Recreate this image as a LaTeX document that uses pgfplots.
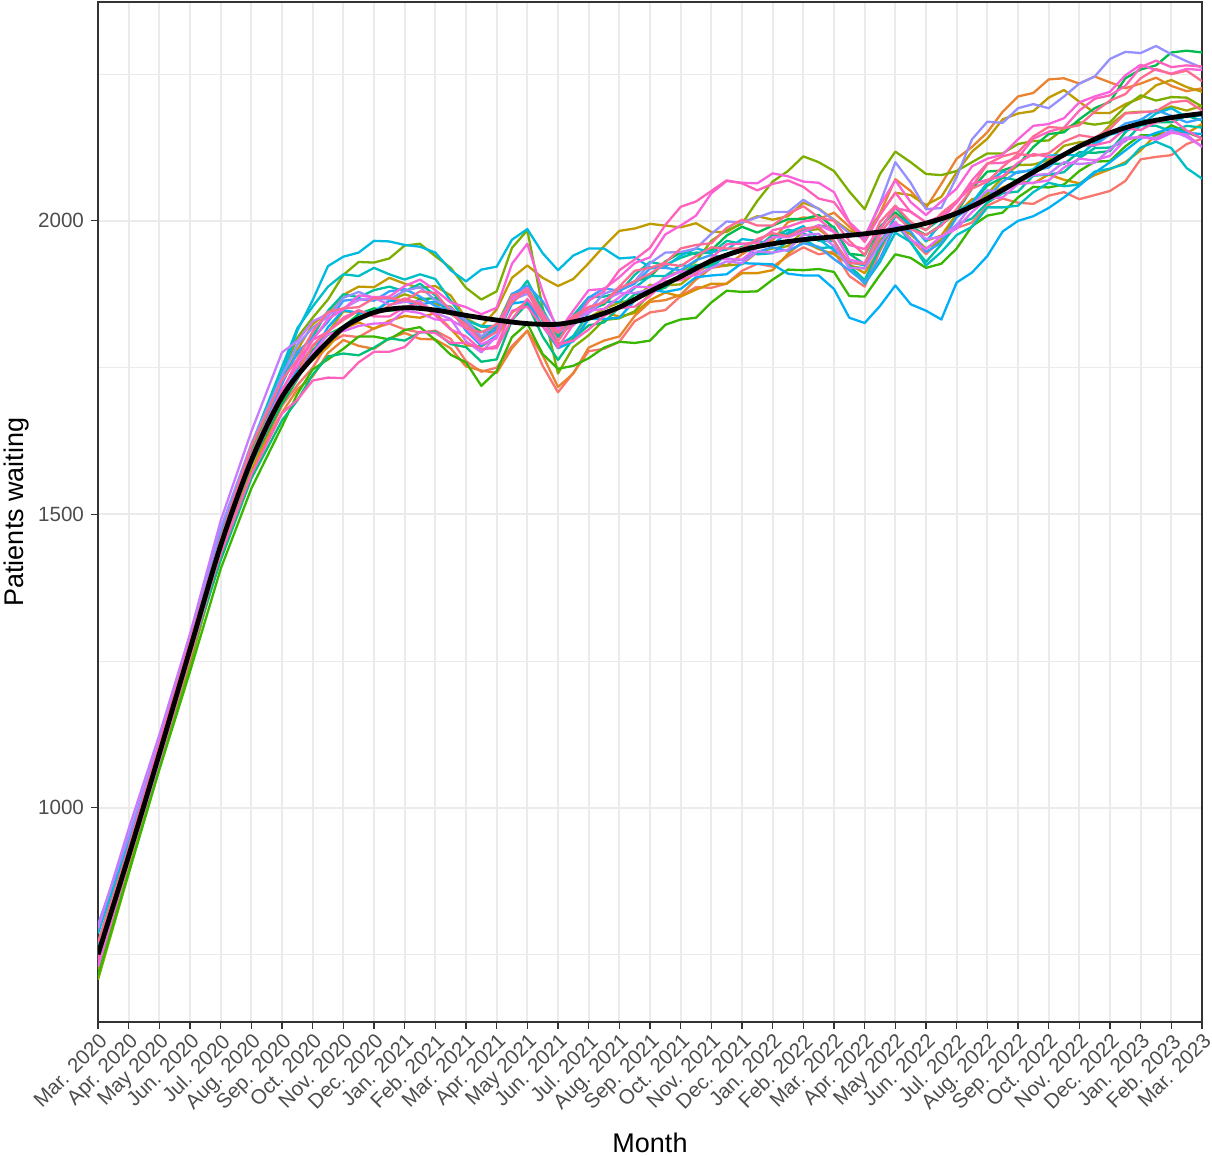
\documentclass[border=0pt]{standalone}
\usepackage{fontspec}
\setmainfont{Liberation Sans}
\usepackage{pgfplots}
\pgfplotsset{compat=1.18}

\definecolor{gray20}{HTML}{333333}
\definecolor{gray30}{HTML}{4D4D4D}
\definecolor{gray92}{HTML}{EBEBEB}
% ggplot hue palette
\definecolor{c01}{HTML}{F8766D}
\definecolor{c02}{HTML}{EA8331}
\definecolor{c03}{HTML}{D89000}
\definecolor{c04}{HTML}{C09B00}
\definecolor{c05}{HTML}{A3A500}
\definecolor{c06}{HTML}{7CAE00}
\definecolor{c07}{HTML}{39B600}
\definecolor{c08}{HTML}{00BB4E}
\definecolor{c09}{HTML}{00BF7D}
\definecolor{c10}{HTML}{00C1A3}
\definecolor{c11}{HTML}{00BFC4}
\definecolor{c12}{HTML}{00BAE0}
\definecolor{c13}{HTML}{00B0F6}
\definecolor{c14}{HTML}{35A2FF}
\definecolor{c15}{HTML}{9590FF}
\definecolor{c16}{HTML}{C77CFF}
\definecolor{c17}{HTML}{E76BF3}
\definecolor{c18}{HTML}{FA62DB}
\definecolor{c19}{HTML}{FF62BC}
\definecolor{c20}{HTML}{FF6C91}

\pgfplotsset{run/.style={line width=1.15pt, line join=round}}

\begin{document}
\begin{tikzpicture}
\begin{axis}[
  width=552pt, height=510pt, scale only axis,
  xmin=0, xmax=36, ymin=635, ymax=2373,
  axis line style={gray20, line width=0.55pt},
  xtick={0,...,36},
  xticklabels={Mar. 2020, Apr. 2020, May 2020, Jun. 2020, Jul. 2020, Aug. 2020, Sep. 2020, Oct. 2020, Nov. 2020, Dec. 2020, Jan. 2021, Feb. 2021, Mar. 2021, Apr. 2021, May 2021, Jun. 2021, Jul. 2021, Aug. 2021, Sep. 2021, Oct. 2021, Nov. 2021, Dec. 2021, Jan. 2022, Feb. 2022, Mar. 2022, Apr. 2022, May 2022, Jun. 2022, Jul. 2022, Aug. 2022, Sep. 2022, Oct. 2022, Nov. 2022, Dec. 2022, Jan. 2023, Feb. 2023, Mar. 2023},
  ytick={1000,1500,2000},
  minor ytick={750,1250,1750,2250},
  grid=both,
  major grid style={gray92, line width=1.1pt},
  minor grid style={gray92, line width=0.55pt},
  tick align=outside, tick pos=left,
  major tick length=3.5pt, minor tick length=0pt,
  every tick/.style={gray20, line width=0.55pt},
  /pgf/number format/assume math mode=true,
  /pgf/number format/1000 sep={},
  x tick label style={rotate=45, anchor=north east, inner sep=1pt, font=\fontsize{10.3}{12}\selectfont, text=gray30},
  y tick label style={font=\fontsize{10.3}{12}\selectfont, text=gray30},
  xlabel={Month}, ylabel={Patients waiting},
  label style={font=\fontsize{13.5}{16}\selectfont, text=black},
  xlabel style={at={(axis description cs:0.5,-0.118)}, anchor=center},
  ylabel style={at={(axis description cs:-0.074,0.5)}, anchor=center},
]

\addplot[run, c01] coordinates {(0,733) (1,902) (2,1080) (3,1254) (4,1424) (5,1572) (6,1685) (6.5,1720) (7,1750) (7.5,1791) (8,1805) (8.5,1802) (9,1817) (9.5,1825) (10,1815) (10.5,1810) (11,1813) (11.5,1799) (12,1761) (12.5,1743) (13,1750) (13.5,1787) (14,1813) (14.5,1753) (15,1708) (15.5,1741) (16,1778) (16.5,1782) (17,1794) (17.5,1829) (18,1844) (18.5,1848) (19,1872) (19.5,1887) (20,1886) (20.5,1893) (21,1915) (21.5,1927) (22,1922) (22.5,1940) (23,1955) (23.5,1943) (24,1948) (24.5,1906) (25,1888) (25.5,1949) (26,1998) (26.5,1969) (27,1943) (27.5,1969) (28,1988) (28.5,1997) (29,2026) (29.5,2038) (30,2031) (30.5,2029) (31,2043) (31.5,2049) (32,2037) (32.5,2044) (33,2051) (33.5,2068) (34,2105) (34.5,2109) (35,2112) (35.5,2131) (36,2140)};

\addplot[run, c02] coordinates {(0,761) (1,931) (2,1112) (3,1295) (4,1447) (5,1572) (6,1673) (6.5,1713) (7,1735) (7.5,1775) (8,1797) (8.5,1787) (9,1782) (9.5,1800) (10,1809) (10.5,1799) (11,1798) (11.5,1783) (12,1752) (12.5,1745) (13,1741) (13.5,1783) (14,1813) (14.5,1771) (15,1717) (15.5,1740) (16,1784) (16.5,1796) (17,1803) (17.5,1838) (18,1862) (18.5,1865) (19,1874) (19.5,1900) (20,1920) (20.5,1924) (21,1943) (21.5,1959) (22,1967) (22.5,1998) (23,2006) (23.5,2003) (24,2014) (24.5,1990) (25,1967) (25.5,2013) (26,2071) (26.5,2051) (27,2022) (27.5,2063) (28,2106) (28.5,2126) (29,2151) (29.5,2186) (30,2212) (30.5,2218) (31,2241) (31.5,2243) (32,2234) (32.5,2246) (33,2236) (33.5,2226) (34,2234) (34.5,2244) (35,2230) (35.5,2221) (36,2226)};

\addplot[run, c03] coordinates {(0,757) (1,918) (2,1083) (3,1263) (4,1435) (5,1574) (6,1692) (6.5,1742) (7,1763) (7.5,1785) (8,1816) (8.5,1827) (9,1816) (9.5,1830) (10,1838) (10.5,1835) (11,1843) (11.5,1816) (12,1788) (12.5,1786) (13,1803) (13.5,1844) (14,1862) (14.5,1832) (15,1791) (15.5,1799) (16,1833) (16.5,1844) (17,1837) (17.5,1843) (18,1865) (18.5,1878) (19,1871) (19.5,1883) (20,1893) (20.5,1893) (21,1911) (21.5,1911) (22,1916) (22.5,1944) (23,1965) (23.5,1952) (24,1943) (24.5,1926) (25,1911) (25.5,1952) (26,2010) (26.5,1999) (27,1966) (27.5,1975) (28,2012) (28.5,2037) (29,2042) (29.5,2057) (30,2068) (30.5,2064) (31,2079) (31.5,2070) (32,2064) (32.5,2078) (33,2088) (33.5,2100) (34,2120) (34.5,2147) (35,2152) (35.5,2149) (36,2165)};

\addplot[run, c04] coordinates {(0,760) (1,929) (2,1097) (3,1282) (4,1465) (5,1610) (6,1725) (6.5,1780) (7,1824) (7.5,1844) (8,1874) (8.5,1888) (9,1887) (9.5,1903) (10,1893) (10.5,1886) (11,1889) (11.5,1873) (12,1834) (12.5,1820) (13,1849) (13.5,1903) (14,1924) (14.5,1903) (15,1889) (15.5,1901) (16,1928) (16.5,1957) (17,1983) (17.5,1987) (18,1995) (18.5,1992) (19,1989) (19.5,1996) (20,1981) (20.5,1981) (21,1997) (21.5,2008) (22,2002) (22.5,2008) (23,2031) (23.5,2021) (24,2002) (24.5,1983) (25,1976) (25.5,2011) (26,2048) (26.5,2044) (27,2027) (27.5,2041) (28,2083) (28.5,2118) (29,2140) (29.5,2173) (30,2183) (30.5,2187) (31,2210) (31.5,2223) (32,2203) (32.5,2184) (33,2184) (33.5,2199) (34,2209) (34.5,2231) (35,2240) (35.5,2228) (36,2220)};

\addplot[run, c05] coordinates {(0,724) (1,899) (2,1068) (3,1245) (4,1432) (5,1585) (6,1697) (6.5,1747) (7,1786) (7.5,1810) (8,1846) (8.5,1844) (9,1843) (9.5,1864) (10,1875) (10.5,1867) (11,1858) (11.5,1854) (12,1828) (12.5,1800) (13,1822) (13.5,1876) (14,1881) (14.5,1830) (15,1802) (15.5,1826) (16,1835) (16.5,1850) (17,1861) (17.5,1866) (18,1891) (18.5,1890) (19,1892) (19.5,1912) (20,1926) (20.5,1924) (21,1926) (21.5,1947) (22,1953) (22.5,1957) (23,1983) (23.5,1986) (24,1966) (24.5,1923) (25,1919) (25.5,1967) (26,1992) (26.5,1977) (27,1953) (27.5,1967) (28,2011) (28.5,2028) (29,2046) (29.5,2074) (30,2095) (30.5,2096) (31,2104) (31.5,2128) (32,2134) (32.5,2136) (33,2163) (33.5,2184) (34,2186) (34.5,2186) (35,2195) (35.5,2188) (36,2196)};

\addplot[run, c06] coordinates {(0,707) (1,888) (2,1067) (3,1242) (4,1441) (5,1609) (6,1737) (6.5,1801) (7,1835) (7.5,1866) (8,1908) (8.5,1930) (9,1929) (9.5,1936) (10,1958) (10.5,1961) (11,1940) (11.5,1920) (12,1886) (12.5,1866) (13,1880) (13.5,1954) (14,1984) (14.5,1852) (15,1740) (15.5,1785) (16,1805) (16.5,1831) (17,1834) (17.5,1846) (18,1877) (18.5,1906) (19,1914) (19.5,1931) (20,1966) (20.5,1984) (21,1995) (21.5,2034) (22,2067) (22.5,2085) (23,2110) (23.5,2100) (24,2085) (24.5,2050) (25,2020) (25.5,2080) (26,2118) (26.5,2100) (27,2080) (27.5,2078) (28,2085) (28.5,2100) (29,2115) (29.5,2115) (30,2131) (30.5,2136) (31,2137) (31.5,2157) (32,2168) (32.5,2164) (33,2168) (33.5,2195) (34,2214) (34.5,2205) (35,2211) (35.5,2210) (36,2195)};

\addplot[run, c07] coordinates {(0,714) (1,889) (2,1065) (3,1232) (4,1407) (5,1544) (6,1650) (6.5,1705) (7,1747) (7.5,1764) (8,1782) (8.5,1803) (9,1803) (9.5,1798) (10,1814) (10.5,1819) (11,1797) (11.5,1772) (12,1759) (12.5,1719) (13,1744) (13.5,1802) (14,1825) (14.5,1773) (15,1748) (15.5,1753) (16,1766) (16.5,1784) (17,1794) (17.5,1792) (18,1796) (18.5,1823) (19,1832) (19.5,1835) (20,1861) (20.5,1881) (21,1879) (21.5,1880) (22,1900) (22.5,1917) (23,1916) (23.5,1918) (24,1913) (24.5,1872) (25,1871) (25.5,1908) (26,1943) (26.5,1937) (27,1920) (27.5,1927) (28,1953) (28.5,1991) (29,2009) (29.5,2014) (30,2040) (30.5,2058) (31,2057) (31.5,2062) (32,2085) (32.5,2101) (33,2102) (33.5,2127) (34,2146) (34.5,2146) (35,2163) (35.5,2151) (36,2141)};

\addplot[run, c08] coordinates {(0,770) (1,939) (2,1099) (3,1266) (4,1443) (5,1587) (6,1688) (6.5,1730) (7,1779) (7.5,1806) (8,1820) (8.5,1841) (9,1851) (9.5,1847) (10,1849) (10.5,1867) (11,1868) (11.5,1841) (12,1827) (12.5,1811) (13,1812) (13.5,1875) (14,1883) (14.5,1831) (15,1804) (15.5,1834) (16,1848) (16.5,1858) (17,1884) (17.5,1897) (18,1905) (18.5,1931) (19,1946) (19.5,1944) (20,1950) (20.5,1975) (21,1990) (21.5,1980) (22,1992) (22.5,2003) (23,2003) (23.5,2010) (24,1988) (24.5,1944) (25,1941) (25.5,1990) (26,2015) (26.5,1990) (27,1976) (27.5,1993) (28,2015) (28.5,2055) (29,2084) (29.5,2086) (30,2095) (30.5,2126) (31,2148) (31.5,2151) (32,2173) (32.5,2192) (33,2203) (33.5,2243) (34,2258) (34.5,2265) (35,2287) (35.5,2290) (36,2287)};

\addplot[run, c09] coordinates {(0,748) (1,921) (2,1091) (3,1259) (4,1422) (5,1561) (6,1660) (6.5,1694) (7,1738) (7.5,1769) (8,1774) (8.5,1771) (9,1784) (9.5,1800) (10,1796) (10.5,1810) (11,1811) (11.5,1790) (12,1785) (12.5,1760) (13,1764) (13.5,1831) (14,1859) (14.5,1803) (15,1763) (15.5,1800) (16,1822) (16.5,1827) (17,1853) (17.5,1875) (18,1879) (18.5,1886) (19,1909) (19.5,1925) (20,1924) (20.5,1943) (21,1956) (21.5,1955) (22,1976) (22.5,1978) (23,1983) (23.5,1992) (24,1990) (24.5,1944) (25,1926) (25.5,1986) (26,2023) (26.5,1995) (27,1985) (27.5,2004) (28,2016) (28.5,2030) (29,2060) (29.5,2074) (30,2069) (30.5,2085) (31,2098) (31.5,2097) (32,2117) (32.5,2116) (33,2119) (33.5,2151) (34,2173) (34.5,2168) (35,2168) (35.5,2179) (36,2171)};

\addplot[run, c10] coordinates {(0,741) (1,916) (2,1099) (3,1280) (4,1457) (5,1614) (6,1734) (6.5,1773) (7,1803) (7.5,1847) (8,1875) (8.5,1870) (9,1882) (9.5,1888) (10,1880) (10.5,1893) (11,1873) (11.5,1844) (12,1831) (12.5,1820) (13,1817) (13.5,1865) (14,1898) (14.5,1849) (15,1802) (15.5,1839) (16,1870) (16.5,1871) (17,1878) (17.5,1908) (18,1930) (18.5,1925) (19,1937) (19.5,1946) (20,1945) (20.5,1966) (21,1961) (21.5,1956) (22,1972) (22.5,1985) (23,1979) (23.5,1966) (24,1966) (24.5,1924) (25,1899) (25.5,1955) (26,1997) (26.5,1963) (27,1930) (27.5,1960) (28,1994) (28.5,2004) (29,2031) (29.5,2047) (30,2050) (30.5,2077) (31,2079) (31.5,2083) (32,2107) (32.5,2124) (33,2125) (33.5,2136) (34,2163) (34.5,2162) (35,2153) (35.5,2162) (36,2159)};

\addplot[run, c11] coordinates {(0,767) (1,930) (2,1103) (3,1279) (4,1463) (5,1618) (6,1751) (6.5,1817) (7,1854) (7.5,1888) (8,1909) (8.5,1906) (9,1920) (9.5,1909) (10,1900) (10.5,1909) (11,1901) (11.5,1864) (12,1830) (12.5,1821) (13,1821) (13.5,1859) (14,1887) (14.5,1842) (15,1786) (15.5,1804) (16,1843) (16.5,1862) (17,1862) (17.5,1886) (18,1906) (18.5,1906) (19,1925) (19.5,1921) (20,1921) (20.5,1942) (21,1953) (21.5,1943) (22,1945) (22.5,1966) (23,1969) (23.5,1954) (24,1955) (24.5,1922) (25,1893) (25.5,1930) (26,1980) (26.5,1964) (27,1924) (27.5,1947) (28,1976) (28.5,1990) (29,2023) (29.5,2023) (30,2026) (30.5,2049) (31,2065) (31.5,2059) (32,2062) (32.5,2084) (33,2089) (33.5,2097) (34,2125) (34.5,2135) (35,2124) (35.5,2090) (36,2072)};

\addplot[run, c12] coordinates {(0,786) (1,943) (2,1105) (3,1281) (4,1468) (5,1615) (6,1740) (6.5,1813) (7,1865) (7.5,1923) (8,1939) (8.5,1946) (9,1966) (9.5,1965) (10,1959) (10.5,1956) (11,1946) (11.5,1916) (12,1897) (12.5,1917) (13,1922) (13.5,1968) (14,1986) (14.5,1945) (15,1916) (15.5,1941) (16,1953) (16.5,1953) (17,1936) (17.5,1938) (18,1921) (18.5,1922) (19,1941) (19.5,1953) (20,1947) (20.5,1951) (21,1969) (21.5,1966) (22,1960) (22.5,1980) (23,1991) (23.5,1969) (24,1950) (24.5,1930) (25,1924) (25.5,1959) (26,2008) (26.5,1995) (27,1965) (27.5,1996) (28,2015) (28.5,2031) (29,2065) (29.5,2084) (30,2082) (30.5,2088) (31,2111) (31.5,2113) (32,2111) (32.5,2133) (33,2147) (33.5,2153) (34,2163) (34.5,2183) (35,2192) (35.5,2177) (36,2180)};

\addplot[run, c13] coordinates {(0,763) (1,932) (2,1093) (3,1270) (4,1446) (5,1586) (6,1704) (6.5,1745) (7,1774) (7.5,1819) (8,1848) (8.5,1843) (9,1845) (9.5,1864) (10,1863) (10.5,1857) (11,1863) (11.5,1849) (12,1813) (12.5,1787) (13,1805) (13.5,1859) (14,1863) (14.5,1821) (15,1783) (15.5,1795) (16,1833) (16.5,1833) (17,1835) (17.5,1864) (18,1883) (18.5,1879) (19,1884) (19.5,1904) (20,1907) (20.5,1909) (21,1928) (21.5,1927) (22,1926) (22.5,1910) (23,1907) (23.5,1907) (24,1884) (24.5,1835) (25,1826) (25.5,1855) (26,1890) (26.5,1858) (27,1847) (27.5,1832) (28,1895) (28.5,1912) (29,1940) (29.5,1982) (30,2000) (30.5,2008) (31,2022) (31.5,2040) (32,2060) (32.5,2082) (33,2100) (33.5,2120) (34,2140) (34.5,2150) (35,2158) (35.5,2150) (36,2148)};

\addplot[run, c14] coordinates {(0,747) (1,922) (2,1092) (3,1279) (4,1454) (5,1598) (6,1722) (6.5,1777) (7,1800) (7.5,1828) (8,1864) (8.5,1867) (9,1864) (9.5,1880) (10,1884) (10.5,1871) (11,1855) (11.5,1845) (12,1824) (12.5,1797) (13,1817) (13.5,1875) (14,1890) (14.5,1863) (15,1818) (15.5,1831) (16,1869) (16.5,1885) (17,1881) (17.5,1893) (18,1919) (18.5,1920) (19,1916) (19.5,1933) (20,1942) (20.5,1936) (21,1933) (21.5,1947) (22,1955) (22.5,1949) (23,1962) (23.5,1956) (24,1935) (24.5,1916) (25,1895) (25.5,1936) (26,1992) (26.5,1982) (27,1947) (27.5,1963) (28,2006) (28.5,2026) (29,2040) (29.5,2067) (30,2084) (30.5,2085) (31,2091) (31.5,2114) (32,2130) (32.5,2128) (33,2148) (33.5,2166) (34,2172) (34.5,2189) (35,2179) (35.5,2168) (36,2174)};

\addplot[run, c15] coordinates {(0,801) (1,951) (2,1113) (3,1292) (4,1476) (5,1620) (6,1736) (6.5,1789) (7,1818) (7.5,1837) (8,1869) (8.5,1879) (9,1868) (9.5,1866) (10,1881) (10.5,1887) (11,1865) (11.5,1852) (12,1830) (12.5,1803) (13,1825) (13.5,1865) (14,1876) (14.5,1844) (15,1810) (15.5,1822) (16,1848) (16.5,1876) (17,1885) (17.5,1897) (18,1928) (18.5,1946) (19,1947) (19.5,1953) (20,1978) (20.5,1999) (21,1997) (21.5,2006) (22,2015) (22.5,2015) (23,2036) (23.5,2020) (24,2001) (24.5,1979) (25,1970) (25.5,2030) (26,2100) (26.5,2065) (27,2020) (27.5,2022) (28,2075) (28.5,2139) (29,2169) (29.5,2167) (30,2192) (30.5,2199) (31,2192) (31.5,2212) (32,2234) (32.5,2246) (33,2276) (33.5,2288) (34,2286) (34.5,2298) (35,2284) (35.5,2272) (36,2261)};

\addplot[run, c16] coordinates {(0,794) (1,964) (2,1124) (3,1296) (4,1489) (5,1641) (6,1776) (6.5,1795) (7,1829) (7.5,1841) (8,1851) (8.5,1865) (9,1869) (9.5,1857) (10,1862) (10.5,1863) (11,1843) (11.5,1833) (12,1795) (12.5,1776) (13,1804) (13.5,1867) (14,1879) (14.5,1836) (15,1816) (15.5,1830) (16,1843) (16.5,1865) (17,1877) (17.5,1877) (18,1883) (18.5,1903) (19,1914) (19.5,1907) (20,1920) (20.5,1931) (21,1928) (21.5,1948) (22,1946) (22.5,1951) (23,1976) (23.5,1978) (24,1957) (24.5,1920) (25,1919) (25.5,1961) (26,1994) (26.5,1988) (27,1969) (27.5,1973) (28,1993) (28.5,2027) (29,2052) (29.5,2049) (30,2065) (30.5,2078) (31,2080) (31.5,2100) (32,2097) (32.5,2099) (33,2122) (33.5,2142) (34,2142) (34.5,2141) (35,2154) (35.5,2143) (36,2127)};

\addplot[run, c17] coordinates {(0,729) (1,908) (2,1080) (3,1256) (4,1440) (5,1589) (6,1698) (6.5,1732) (7,1775) (7.5,1807) (8,1812) (8.5,1821) (9,1825) (9.5,1826) (10,1847) (10.5,1843) (11,1832) (11.5,1831) (12,1817) (12.5,1790) (13,1800) (13.5,1868) (14,1886) (14.5,1837) (15,1815) (15.5,1838) (16,1847) (16.5,1850) (17,1870) (17.5,1888) (18,1887) (18.5,1902) (19,1914) (19.5,1913) (20,1934) (20.5,1935) (21,1934) (21.5,1955) (22,1972) (22.5,1972) (23,1981) (23.5,1993) (24,1981) (24.5,1934) (25,1928) (25.5,1974) (26,1998) (26.5,1968) (27,1952) (27.5,1974) (28,1987) (28.5,2015) (29,2038) (29.5,2040) (30,2063) (30.5,2065) (31,2069) (31.5,2091) (32,2106) (32.5,2103) (33,2111) (33.5,2138) (34,2144) (34.5,2138) (35,2150) (35.5,2147) (36,2126)};

\addplot[run, c18] coordinates {(0,753) (1,932) (2,1109) (3,1283) (4,1453) (5,1601) (6,1713) (6.5,1752) (7,1797) (7.5,1833) (8,1849) (8.5,1873) (9,1870) (9.5,1871) (10,1889) (10.5,1900) (11,1882) (11.5,1861) (12,1853) (12.5,1841) (13,1852) (13.5,1927) (14,1961) (14.5,1879) (15,1810) (15.5,1847) (16,1882) (16.5,1884) (17,1904) (17.5,1928) (18,1938) (18.5,1977) (19,1992) (19.5,2009) (20,2047) (20.5,2068) (21,2065) (21.5,2064) (22,2081) (22.5,2076) (23,2067) (23.5,2065) (24,2049) (24.5,1998) (25,1973) (25.5,2027) (26,2069) (26.5,2032) (27,2010) (27.5,2033) (28,2055) (28.5,2093) (29,2106) (29.5,2113) (30,2139) (30.5,2162) (31,2165) (31.5,2175) (32,2202) (32.5,2212) (33,2220) (33.5,2248) (34,2266) (34.5,2257) (35,2251) (35.5,2259) (36,2257)};

\addplot[run, c19] coordinates {(0,740) (1,910) (2,1091) (3,1274) (4,1432) (5,1568) (6,1672) (6.5,1695) (7,1728) (7.5,1733) (8,1732) (8.5,1759) (9,1777) (9.5,1777) (10,1785) (10.5,1811) (11,1809) (11.5,1792) (12,1792) (12.5,1782) (13,1783) (13.5,1832) (14,1867) (14.5,1832) (15,1784) (15.5,1824) (16,1864) (16.5,1880) (17,1916) (17.5,1934) (18,1954) (18.5,1993) (19,2024) (19.5,2033) (20,2051) (20.5,2069) (21,2064) (21.5,2052) (22,2063) (22.5,2069) (23,2058) (23.5,2038) (24,2032) (24.5,1997) (25,1964) (25.5,2010) (26,2048) (26.5,2015) (27,1998) (27.5,2008) (28,2031) (28.5,2069) (29,2098) (29.5,2099) (30,2108) (30.5,2140) (31,2152) (31.5,2159) (32,2188) (32.5,2208) (33,2214) (33.5,2230) (34,2262) (34.5,2273) (35,2262) (35.5,2265) (36,2263)};

\addplot[run, c20] coordinates {(0,770) (1,932) (2,1105) (3,1282) (4,1459) (5,1616) (6,1729) (6.5,1764) (7,1811) (7.5,1845) (8,1851) (8.5,1853) (9,1868) (9.5,1869) (10,1864) (10.5,1880) (11,1877) (11.5,1846) (12,1817) (12.5,1810) (13,1824) (13.5,1861) (14,1885) (14.5,1843) (15,1795) (15.5,1833) (16,1853) (16.5,1861) (17,1888) (17.5,1915) (18,1920) (18.5,1929) (19,1953) (19.5,1959) (20,1962) (20.5,1988) (21,2002) (21.5,1992) (22,1992) (22.5,2012) (23,2025) (23.5,2006) (24,2000) (24.5,1966) (25,1942) (25.5,1998) (26,2026) (26.5,1998) (27,1984) (27.5,2013) (28,2034) (28.5,2058) (29,2097) (29.5,2110) (30,2117) (30.5,2144) (31,2160) (31.5,2158) (32,2163) (32.5,2186) (33,2205) (33.5,2216) (34,2243) (34.5,2259) (35,2250) (35.5,2256) (36,2238)};

\addplot[run, c19] coordinates {(0,751) (1,922) (2,1086) (3,1266) (4,1450) (5,1595) (6,1710) (6.5,1761) (7,1797) (7.5,1811) (8,1835) (8.5,1848) (9,1837) (9.5,1837) (10,1853) (10.5,1860) (11,1839) (11.5,1815) (12,1803) (12.5,1780) (13,1787) (13.5,1847) (14,1854) (14.5,1820) (15,1789) (15.5,1796) (16,1815) (16.5,1838) (17,1851) (17.5,1854) (18,1872) (18.5,1897) (19,1899) (19.5,1909) (20,1937) (20.5,1960) (21,1961) (21.5,1963) (22,1984) (22.5,1990) (23,1999) (23.5,2003) (24,1982) (24.5,1959) (25,1952) (25.5,1986) (26,2022) (26.5,2016) (27,1997) (27.5,2001) (28,2032) (28.5,2063) (29,2070) (29.5,2076) (30,2099) (30.5,2114) (31,2109) (31.5,2110) (32,2129) (32.5,2129) (33,2135) (33.5,2157) (34,2155) (34.5,2168) (35,2174) (35.5,2154) (36,2140)};

\addplot[run, c20] coordinates {(0,747) (1,920) (2,1084) (3,1258) (4,1442) (5,1591) (6,1699) (6.5,1739) (7,1788) (7.5,1812) (8,1831) (8.5,1847) (9,1839) (9.5,1856) (10,1868) (10.5,1858) (11,1846) (11.5,1842) (12,1824) (12.5,1795) (13,1811) (13.5,1873) (14,1880) (14.5,1833) (15,1809) (15.5,1838) (16,1853) (16.5,1861) (17,1885) (17.5,1897) (18,1910) (18.5,1927) (19,1923) (19.5,1940) (20,1955) (20.5,1953) (21,1953) (21.5,1969) (22,1979) (22.5,1974) (23,1987) (23.5,1990) (24,1965) (24.5,1928) (25,1927) (25.5,1980) (26,2010) (26.5,1986) (27,1976) (27.5,1992) (28,2020) (28.5,2055) (29,2067) (29.5,2092) (30,2114) (30.5,2111) (31,2115) (31.5,2135) (32,2146) (32.5,2142) (33,2157) (33.5,2183) (34,2185) (34.5,2187) (35,2202) (35.5,2205) (36,2188)};

% smoothed mean
\addplot[black, line width=2.4pt, smooth] coordinates {(0,750) (1,918) (2,1092) (3,1270) (4,1447) (5,1592) (6,1700) (7,1767) (8,1818) (9,1844) (10,1852) (11,1848) (12,1839) (13,1831) (14,1825) (15,1824) (16,1834) (17,1853) (18,1880) (19,1905) (20,1932) (21,1950) (22,1961) (23,1968) (24,1973) (25,1978) (26,1985) (27,1996) (28,2013) (29,2038) (30,2068) (31,2098) (32,2127) (33,2150) (34,2166) (35,2176) (36,2183)};

\end{axis}
\pgfresetboundingbox
\useasboundingbox (-49pt,-67pt) rectangle (557pt,511pt);
\end{tikzpicture}
\end{document}
